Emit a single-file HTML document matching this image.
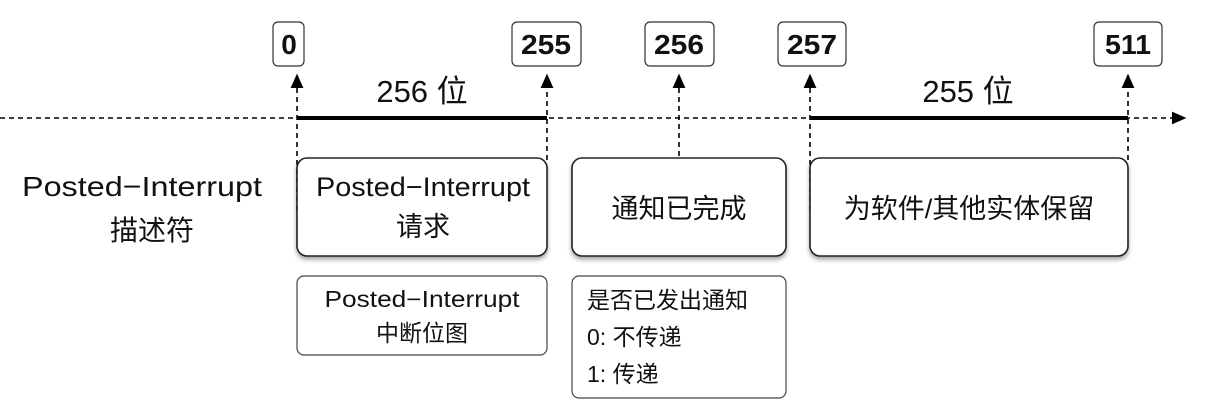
<!DOCTYPE html>
<html><head><meta charset="utf-8"><style>
body{margin:0;width:1232px;height:403px;background:#fff;overflow:hidden;font-family:"Liberation Sans","Noto Sans CJK SC",sans-serif;}
svg text{font-family:"Liberation Sans","Noto Sans CJK SC",sans-serif;fill:#111}
</style></head><body>
<svg width="1232" height="403" viewBox="0 0 1232 403">
<defs>
<marker id="a" markerWidth="10" markerHeight="10" refX="5" refY="5" orient="auto"><path d="M0,1 L9,5 L0,9 z" fill="#000"/></marker>
<filter id="s" x="-10%" y="-10%" width="120%" height="130%"><feDropShadow dx="0" dy="3" stdDeviation="2" flood-color="#000" flood-opacity="0.35"/></filter>
</defs>
<g stroke="#000" stroke-width="1.6" stroke-dasharray="5,4" fill="none">
<line x1="0" y1="118" x2="1180" y2="118" marker-end="url(#a)"/>
<line x1="297" y1="210" x2="297" y2="80" marker-end="url(#a)"/>
<line x1="547" y1="160" x2="547" y2="80" marker-end="url(#a)"/>
<line x1="679" y1="156" x2="679" y2="80" marker-end="url(#a)"/>
<line x1="810" y1="210" x2="810" y2="80" marker-end="url(#a)"/>
<line x1="1128" y1="160" x2="1128" y2="80" marker-end="url(#a)"/>
</g>
<line x1="297" y1="118" x2="547" y2="118" stroke="#000" stroke-width="4"/>
<line x1="810" y1="118" x2="1128" y2="118" stroke="#000" stroke-width="4"/>
<g fill="#fff" stroke="#333" stroke-width="1.2">
<rect x="273" y="22" width="31" height="44" rx="5"/>
<rect x="512" y="22" width="69" height="44" rx="5"/>
<rect x="645" y="22" width="69" height="44" rx="5"/>
<rect x="778" y="22" width="68" height="44" rx="5"/>
<rect x="1094" y="22" width="68" height="44" rx="5"/>
</g>
<g font-size="28" font-weight="bold" text-anchor="middle">
<text x="289" y="54">0</text><text x="546" y="54" textLength="50" lengthAdjust="spacingAndGlyphs">255</text><text x="679" y="54" textLength="50" lengthAdjust="spacingAndGlyphs">256</text><text x="812" y="54" textLength="50" lengthAdjust="spacingAndGlyphs">257</text><text x="1128" y="54" textLength="46" lengthAdjust="spacingAndGlyphs">511</text>
</g>
<g font-size="31" text-anchor="middle">
<text x="422" y="102">256 位</text><text x="968" y="102">255 位</text>
</g>
<g font-size="28" text-anchor="middle">
<text x="142" y="196" textLength="240" lengthAdjust="spacingAndGlyphs">Posted−Interrupt</text><text x="152" y="240">描述符</text>
</g>
<g fill="#fff" stroke="#222" stroke-width="1.6" filter="url(#s)">
<rect x="297" y="158" width="250" height="98" rx="10"/>
<rect x="572" y="158" width="214" height="98" rx="10"/>
<rect x="810" y="158" width="318" height="98" rx="10"/>
</g>
<g font-size="27" text-anchor="middle">
<text x="423" y="196" textLength="214" lengthAdjust="spacingAndGlyphs">Posted−Interrupt</text><text x="423" y="236">请求</text>
<text x="679" y="218">通知已完成</text>
<text x="969" y="218">为软件/其他实体保留</text>
</g>
<g fill="#fff" stroke="#444" stroke-width="1.2">
<rect x="297" y="276" width="250" height="79" rx="7"/>
<rect x="572" y="276" width="214" height="122" rx="7"/>
</g>
<g font-size="23">
<text x="422" y="307" text-anchor="middle" textLength="195" lengthAdjust="spacingAndGlyphs">Posted−Interrupt</text>
<text x="422" y="341" text-anchor="middle">中断位图</text>
<text x="587" y="308">是否已发出通知</text>
<text x="587" y="345">0: 不传递</text>
<text x="587" y="382">1: 传递</text>
</g>
</svg>
</body></html>
